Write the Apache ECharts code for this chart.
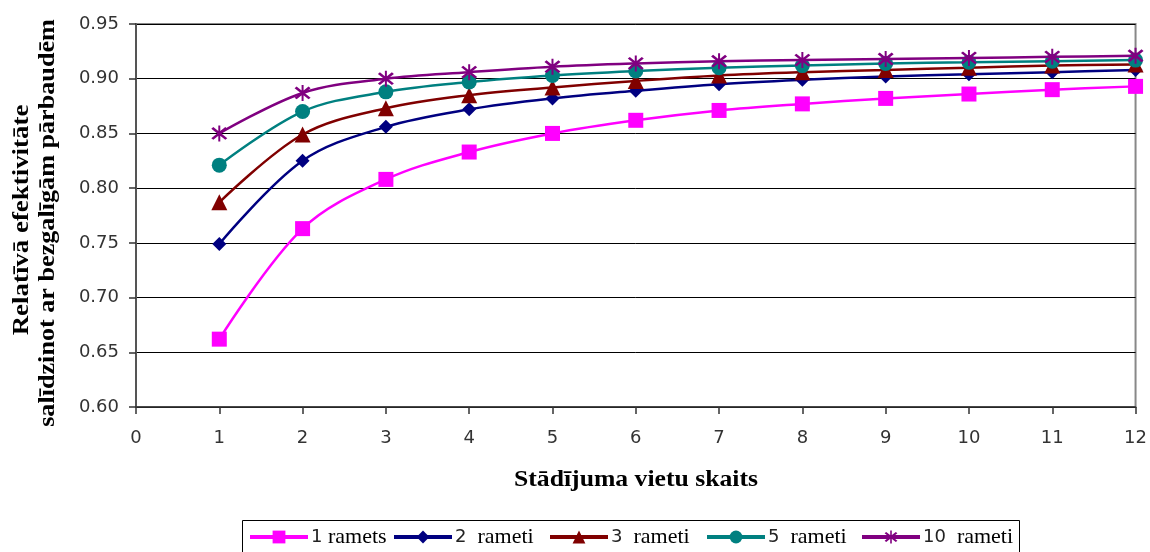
<!DOCTYPE html>
<html>
<head>
<meta charset="utf-8">
<script src="https://cdn.jsdelivr.net/npm/echarts@6/dist/echarts.min.js"></script>
<style>
  html, body { margin: 0; padding: 0; background: #fff; }
  #chart { width: 1150px; height: 552px; }
</style>
</head>
<body>
<div id="chart"></div>
<script>
// Number of planting sites (x axis)
const sites = [1, 2, 3, 4, 5, 6, 7, 8, 9, 10, 11, 12];

// Relative efficiency compared with infinite testing, per number of ramets
const ramets1  = [0.662, 0.763, 0.808, 0.833, 0.850, 0.862, 0.871, 0.877, 0.882, 0.886, 0.890, 0.893];
const ramets2  = [0.749, 0.825, 0.856, 0.872, 0.882, 0.889, 0.895, 0.899, 0.902, 0.904, 0.906, 0.908];
const ramets3  = [0.787, 0.849, 0.873, 0.885, 0.892, 0.898, 0.903, 0.906, 0.908, 0.910, 0.912, 0.913];
const ramets5  = [0.821, 0.870, 0.888, 0.897, 0.903, 0.907, 0.910, 0.912, 0.914, 0.915, 0.916, 0.917];
const ramets10 = [0.850, 0.887, 0.900, 0.906, 0.911, 0.914, 0.916, 0.917, 0.918, 0.919, 0.920, 0.921];

const seriesNames = ['1 ramets', '2  rameti', '3  rameti', '5  rameti', '10  rameti'];
const yTicks = [0.60, 0.65, 0.70, 0.75, 0.80, 0.85, 0.90, 0.95];

// Asterisk marker: a vertical bar and two crossing diagonals
const asterisk = 'path://M9 0L11 0L11 20L9 20Z M2 4L4 2L18 16L16 18Z M16 2L18 4L4 18L2 16Z';

const styles = [
  { color: '#FF00FF', symbol: 'rect',     size: 15 },
  { color: '#000080', symbol: 'diamond',  size: 14 },
  { color: '#800000', symbol: 'triangle', size: 16 },
  { color: '#008080', symbol: 'circle',   size: 15 },
  { color: '#800080', symbol: asterisk,   size: 16 }
];
const values = [ramets1, ramets2, ramets3, ramets5, ramets10];

// Left edge of each legend entry
const legendLefts = [248, 392, 548, 705, 860];

const SERIF = '"Liberation Serif", "Times New Roman", serif';
const SANS = '"DejaVu Sans", Arial, sans-serif';

const chart = echarts.init(document.getElementById('chart'), null, { renderer: 'canvas' });

const legends = seriesNames.map((name, i) => ({
  left: legendLefts[i], top: 526,
  itemWidth: 58, itemHeight: 16, itemGap: 0,
  padding: 0,
  lineStyle: { width: 4 },
  formatter: n => {
    const sp = n.indexOf(' ');
    return '{d|' + n.slice(0, sp) + '}{w|' + n.slice(sp) + '}';
  },
  textStyle: {
    padding: [0, 0, 0, -2],
    rich: {
      d: { fontFamily: SANS, fontSize: 18, color: '#222' },
      w: { fontFamily: SERIF, fontSize: 22, color: '#000' }
    }
  },
  data: [name]
}));

chart.setOption({
  animation: false,
  backgroundColor: '#ffffff',
  grid: {
    left: 136, right: 14, top: 24, bottom: 145,
    show: true, borderColor: '#888888', borderWidth: 2, backgroundColor: '#ffffff'
  },
  xAxis: {
    type: 'value', min: 0, max: 12, interval: 1,
    axisLine: { show: true, onZero: false, lineStyle: { color: '#333', width: 1.5 } },
    axisTick: { show: true, inside: false, length: 7, lineStyle: { color: '#333', width: 1.5 } },
    axisLabel: { margin: 22, fontFamily: SANS, fontSize: 18, color: '#333' },
    splitLine: { show: false }
  },
  yAxis: {
    type: 'value', min: yTicks[0], max: yTicks[yTicks.length - 1], interval: 0.05,
    axisLine: { show: true, lineStyle: { color: '#555', width: 2 } },
    axisTick: { show: true, inside: false, length: 7, lineStyle: { color: '#333', width: 1.5 } },
    axisLabel: {
      margin: 17, fontFamily: SANS, fontSize: 18, color: '#333',
      formatter: v => v.toFixed(2)
    },
    splitLine: { show: true, lineStyle: { color: '#000', width: 1 } }
  },
  legend: legends,
  graphic: [
    {
      type: 'rect', z: -1,
      shape: { x: 242.5, y: 520.5, width: 777, height: 60 },
      style: { fill: '#fff', stroke: '#000', lineWidth: 1 }
    },
    {
      type: 'text', x: 22, y: 220, rotation: Math.PI / 2, scaleX: 1.12,
      style: {
        text: 'Relatīvā efektivitāte', fill: '#000',
        font: 'bold 24px ' + SERIF,
        align: 'center', verticalAlign: 'middle'
      }
    },
    {
      type: 'text', x: 48, y: 223, rotation: Math.PI / 2, scaleX: 1.09,
      style: {
        text: 'salīdzinot ar bezgalīgām pārbaudēm', fill: '#000',
        font: 'bold 24px ' + SERIF,
        align: 'center', verticalAlign: 'middle'
      }
    },
    {
      type: 'text', x: 636, y: 480, scaleX: 1.07,
      style: {
        text: 'Stādījuma vietu skaits', fill: '#000',
        font: 'bold 24px ' + SERIF,
        align: 'center', verticalAlign: 'middle'
      }
    }
  ],
  series: values.map((vals, i) => ({
    name: seriesNames[i],
    type: 'line',
    data: sites.map((s, k) => [s, vals[k]]),
    smooth: 0.35,
    symbol: styles[i].symbol,
    symbolSize: styles[i].size,
    showSymbol: true,
    itemStyle: { color: styles[i].color },
    lineStyle: { color: styles[i].color, width: 2.5 },
    z: 2 + i
  }))
});
</script>
</body>
</html>
